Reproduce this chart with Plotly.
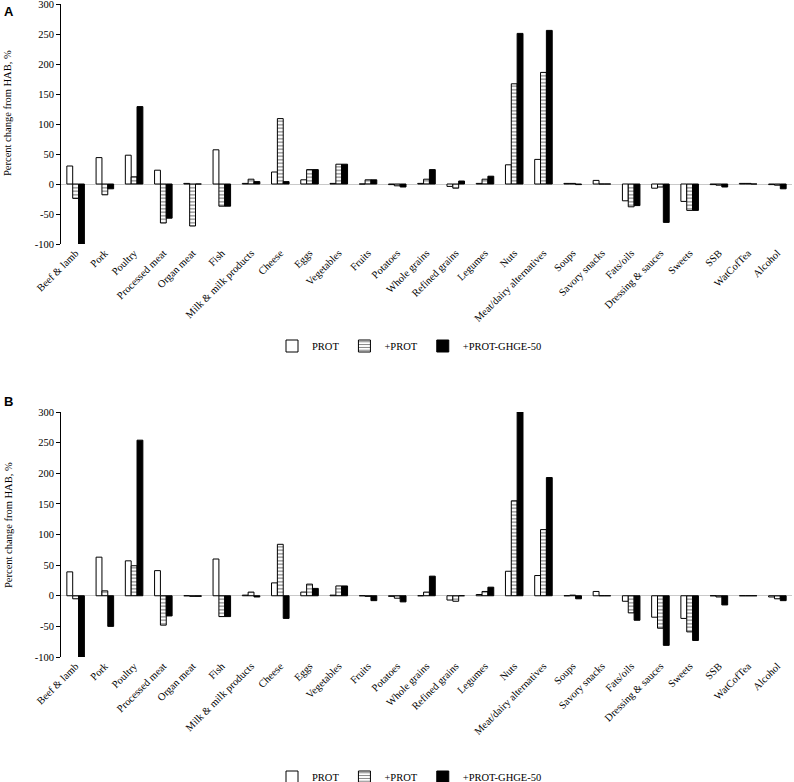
import plotly.graph_objects as go

categories = ["Beef & lamb", "Pork", "Poultry", "Processed meat", "Organ meat", "Fish",
              "Milk & milk products", "Cheese", "Eggs", "Vegetables", "Fruits", "Potatoes",
              "Whole grains", "Refined grains", "Legumes", "Nuts", "Meat/dairy alternatives",
              "Soups", "Savory snacks", "Fats/oils", "Dressing & sauces", "Sweets", "SSB",
              "WatCofTea", "Alcohol"]

series_names = ["PROT", "+PROT", "+PROT-GHGE-50"]

prot_a = [30, 44, 48, 23, 1, 57, 1, 20, 7, 1, 0, -1, 1, -4, 1, 32, 41, 1, 6, -28, -7, -29, -1, 1, -1]
plus_a = [-24, -18, 12, -65, -70, -37, 8, 109, 24, 33, 7, -3, 8, -7, 8, 167, 186, 1, 0, -38, -5, -44, -2, 1, -2]
ghge_a = [-100, -8, 129, -57, 0, -37, 4, 4, 24, 33, 7, -5, 24, 5, 13, 251, 256, -1, 0, -36, -64, -44, -5, 0, -8]

prot_b = [39, 63, 57, 41, 0, 60, 1, 21, 6, 1, 0, -1, 0, -7, 2, 40, 33, 0, 7, -9, -35, -37, 0, 0, -2]
plus_b = [-5, 8, 49, -48, -1, -34, 6, 84, 19, 16, -1, -4, 6, -9, 7, 155, 108, 1, 0, -28, -53, -59, -2, 0, -5]
ghge_b = [-100, -50, 254, -33, -1, -34, -2, -37, 12, 16, -8, -10, 32, 0, 14, 300, 193, -5, 0, -40, -81, -73, -15, 0, -8]

y_tickvals = [-100, -50, 0, 50, 100, 150, 200, 250, 300]
y_ticktext = ["-100", "-50", "0", "50", "100", "150", "200", "250", "300"]

W, H = 794, 782
ML, MR = 61, 2
SERIF = "Liberation Serif"
FS = 10.5


def py(px):
    return 1 - px / H


def px_x(px):
    # paper x fraction (paper spans the plot area between margins)
    return (px - ML) / (W - ML - MR)


fig = go.Figure()


def add_panel(vals, xa, ya, legend):
    styles = [
        dict(color="white", line=dict(color="black", width=1)),
        dict(color="white", line=dict(color="black", width=1),
             pattern=dict(shape="-", fgcolor="black", bgcolor="white", size=3.5, solidity=0.35)),
        dict(color="black", line=dict(color="black", width=1)),
    ]
    for name, v, st in zip(series_names, vals, styles):
        fig.add_trace(go.Bar(x=categories, y=v, name=name, marker=st,
                             xaxis=xa, yaxis=ya, legend=legend))


add_panel([prot_a, plus_a, ghge_a], "x", "y", "legend")
add_panel([prot_b, plus_b, ghge_b], "x2", "y2", "legend2")

xcommon = dict(domain=[0, 1], showgrid=False, showline=False, ticks="", automargin=False,
               tickangle=-45, ticklabeloverflow="allow",
               tickfont=dict(family=SERIF, size=FS, color="black"))
ycommon = dict(range=[-100, 300], tickvals=y_tickvals, ticktext=y_ticktext, showgrid=False,
               showline=True, linecolor="black", linewidth=1, ticks="outside", ticklen=4,
               tickcolor="black", zeroline=True, zerolinecolor="#c9c9c9", zerolinewidth=1,
               automargin=False, ticklabeloverflow="allow",
               tickfont=dict(family=SERIF, size=FS, color="black"))

leg = dict(orientation="h", xanchor="left", x=px_x(272), yanchor="middle",
           font=dict(family=SERIF, size=FS, color="black"), itemwidth=30,
           bgcolor="rgba(0,0,0,0)")

fig.update_layout(
    width=W, height=H,
    margin=dict(l=ML, r=MR, t=0, b=0, autoexpand=False),
    paper_bgcolor="white", plot_bgcolor="white",
    barmode="group", bargap=0.4, bargroupgap=0,
    xaxis=dict(**xcommon, anchor="y"),
    yaxis=dict(**ycommon, domain=[py(244), py(4)], anchor="x"),
    xaxis2=dict(**xcommon, anchor="y2"),
    yaxis2=dict(**ycommon, domain=[py(657), py(412)], anchor="x2"),
    legend=dict(**leg, y=py(346)),
    legend2=dict(**leg, y=py(777)),
    annotations=[
        dict(text="<b>A</b>", x=px_x(2), y=py(2), xref="paper", yref="paper",
             xanchor="left", yanchor="top", showarrow=False,
             font=dict(family="Liberation Sans", size=13, color="black")),
        dict(text="<b>B</b>", x=px_x(2), y=py(392), xref="paper", yref="paper",
             xanchor="left", yanchor="top", showarrow=False,
             font=dict(family="Liberation Sans", size=13, color="black")),
        dict(text="Percent change from HAB, %", x=px_x(8), y=py(113), xref="paper",
             yref="paper", xanchor="center", yanchor="middle", textangle=-90,
             showarrow=False, font=dict(family=SERIF, size=FS, color="black")),
        dict(text="Percent change from HAB, %", x=px_x(8), y=py(525), xref="paper",
             yref="paper", xanchor="center", yanchor="middle", textangle=-90,
             showarrow=False, font=dict(family=SERIF, size=FS, color="black")),
    ],
)

fig.write_html("out.html", config={"displayModeBar": False},
               post_script="document.body.style.margin='0px';document.body.style.padding='0px';")
